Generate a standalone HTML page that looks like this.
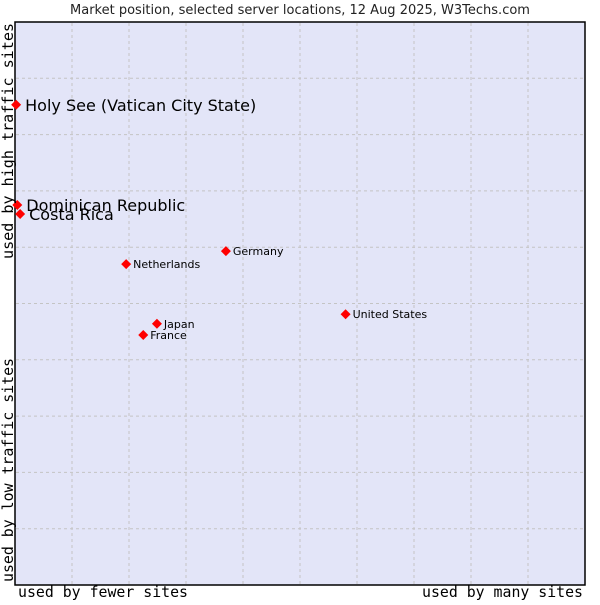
<!DOCTYPE html>
<html><head><meta charset="utf-8"><style>
body{margin:0;background:#fff;width:600px;height:600px;overflow:hidden}
svg text{font-family:"DejaVu Sans","Liberation Sans",sans-serif}
.mono{font-family:"DejaVu Sans Mono","Liberation Mono",monospace}
</style></head><body>
<svg width="600" height="600">
<text x="300" y="14" text-anchor="middle" font-size="13" fill="#222">Market position, selected server locations, 12 Aug 2025, W3Techs.com</text>
<rect x="15" y="22" width="570" height="563" fill="#e3e5f8" stroke="#000" stroke-width="1.5"/>
<g id="grid"></g>
<g id="pts"></g>
<text class="mono" x="18" y="597" font-size="15" textLength="170" lengthAdjust="spacingAndGlyphs" fill="#000">used by fewer sites</text>
<text class="mono" x="422" y="597" font-size="15" textLength="161" lengthAdjust="spacingAndGlyphs" fill="#000">used by many sites</text>
<text class="mono" transform="translate(13,582) rotate(-90)" font-size="15" textLength="224" lengthAdjust="spacingAndGlyphs" fill="#000">used by low traffic sites</text>
<text class="mono" transform="translate(13,259) rotate(-90)" font-size="15" textLength="236" lengthAdjust="spacingAndGlyphs" fill="#000">used by high traffic sites</text>
</svg>
<script>
const names=["Holy See (Vatican City State)","Dominican Republic","Costa Rica","Netherlands","Germany","United States","Japan","France"];
const xVals=[0.2,0.4,0.9,19.5,37,58,24.9,22.5];
const yVals=[85.3,67.5,65.9,57,59.3,48.1,46.4,44.4];
const big=[true,true,true,false,false,false,false,false];
const X0=15,W=570,Y0=585,H=563;
const sx=v=>X0+v/100*W, sy=v=>Y0-v/100*H;
const NS="http://www.w3.org/2000/svg";
const g=document.getElementById('grid');
for(let i=1;i<10;i++){
 const lx=document.createElementNS(NS,'line');
 lx.setAttribute('x1',sx(i*10));lx.setAttribute('x2',sx(i*10));lx.setAttribute('y1',23);lx.setAttribute('y2',584);
 lx.setAttribute('stroke','#c4c4c4');lx.setAttribute('stroke-dasharray','3,3');
 
 
 g.appendChild(lx);
 const ly=document.createElementNS(NS,'line');
 ly.setAttribute('y1',sy(i*10));ly.setAttribute('y2',sy(i*10));ly.setAttribute('x1',16);ly.setAttribute('x2',584);
 ly.setAttribute('stroke','#c4c4c4');ly.setAttribute('stroke-dasharray','3,3');
 
 
 g.appendChild(ly);
}
const p=document.getElementById('pts');
names.forEach((n,i)=>{
 const x=sx(xVals[i]),y=sy(yVals[i]);
 const d=document.createElementNS(NS,'path');
 d.setAttribute('d',`M${x-5},${y}L${x},${y-5}L${x+5},${y}L${x},${y+5}Z`);
 d.setAttribute('fill','#f00');
 
 
 p.appendChild(d);
 const t=document.createElementNS(NS,'text');
 t.setAttribute('x',x+(big[i]?9:7));t.setAttribute('y',y+(big[i]?6:4));
 t.setAttribute('font-size',big[i]?16:11);t.setAttribute('fill','#000');
 t.textContent=n;
 
 
 p.appendChild(t);
});
</script>
</body></html>
